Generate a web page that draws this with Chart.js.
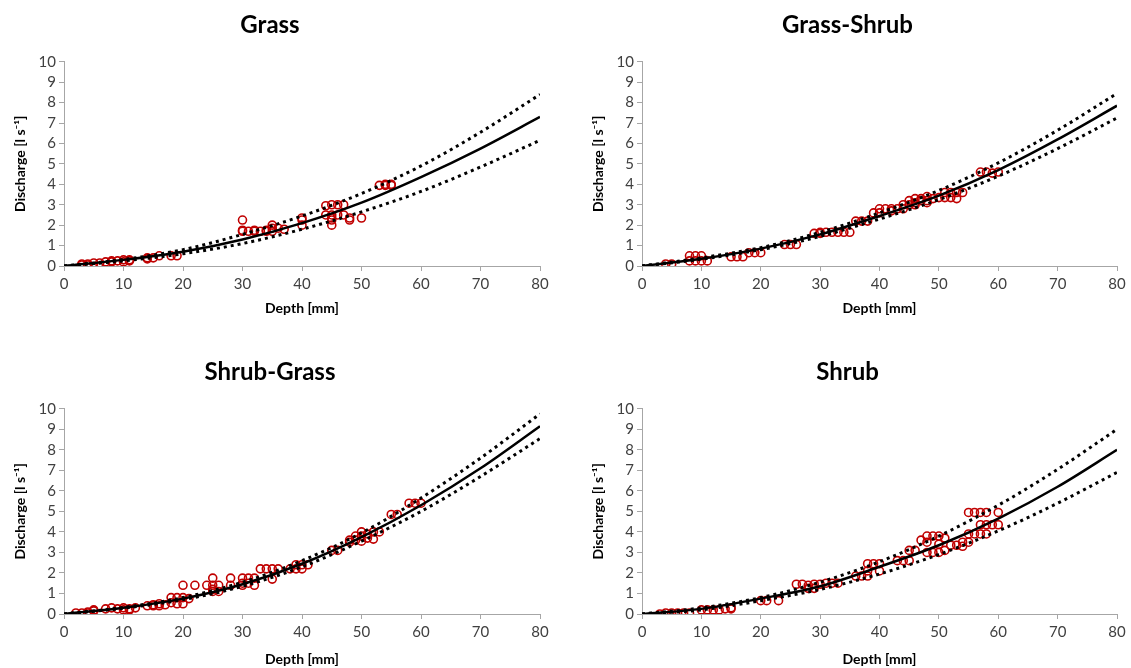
<!DOCTYPE html>
<html>
<head>
<meta charset="utf-8">
<script src="https://cdn.jsdelivr.net/npm/chart.js@4/dist/chart.umd.min.js"></script>
<style>
  html, body { margin: 0; padding: 0; background: #fff; }
  .cell { position: absolute; }
</style>
</head>
<body>
<div class="cell" style="left:0;top:0;width:565px;height:334px"><canvas id="c1"></canvas></div>
<div class="cell" style="left:565px;top:0;width:566px;height:334px"><canvas id="c2"></canvas></div>
<div class="cell" style="left:0;top:334px;width:565px;height:334px"><canvas id="c3"></canvas></div>
<div class="cell" style="left:565px;top:334px;width:566px;height:334px"><canvas id="c4"></canvas></div>
<script>
// curve x positions (mm)
const curveDepth = [0, 10, 20, 30, 40, 50, 60, 70, 80]

// Grass
const grassMean  = [0, 0.3, 0.7, 1.3, 2.1, 3.1, 4.35, 5.75, 7.3]
const grassUpper = [0, 0.32, 0.8, 1.55, 2.45, 3.55, 4.9, 6.55, 8.4]
const grassLower = [0, 0.25, 0.6, 1.1, 1.8, 2.65, 3.65, 4.85, 6.15]
const grassObs = [
  [3,0.05],[3,0.1],[4,0.05],[4,0.1],[5,0.15],[6,0.15],[7,0.2],[8,0.2],[8,0.25],[9,0.25],
  [10,0.2],[10,0.3],[11,0.25],[11,0.3],[14,0.35],[14,0.4],[15,0.4],[16,0.5],[18,0.5],[19,0.5],
  [30,2.25],[30,1.75],[30,1.7],[31,1.7],[32,1.7],[32,1.75],[33,1.7],[34,1.75],[34,1.7],
  [35,2.0],[35,1.85],[35,1.7],[36,1.85],[37,1.8],[40,2.35],[40,2.25],[40,2.0],
  [44,2.95],[44,2.5],[45,3.0],[45,2.5],[45,2.35],[45,2.25],[45,2.0],[46,3.0],[46,2.5],
  [47,3.0],[47,2.5],[48,2.35],[48,2.25],[50,2.35],[53,3.95],[54,4.0],[54,3.95],[55,3.95],[55,4.0]
]

// Grass-Shrub
const grassShrubMean  = [0, 0.35, 0.85, 1.55, 2.45, 3.45, 4.7, 6.2, 7.85]
const grassShrubUpper = [0, 0.4, 0.9, 1.65, 2.6, 3.7, 5.05, 6.65, 8.45]
const grassShrubLower = [0, 0.33, 0.8, 1.45, 2.3, 3.25, 4.4, 5.75, 7.25]
const grassShrubObs = [
  [4,0.1],[5,0.1],[8,0.5],[8,0.25],[9,0.5],[9,0.25],[10,0.5],[10,0.25],[11,0.25],
  [15,0.45],[16,0.45],[17,0.45],[18,0.65],[19,0.65],[20,0.65],[24,1.05],[25,1.05],[26,1.05],
  [29,1.6],[30,1.65],[30,1.6],[31,1.65],[32,1.65],[33,1.65],[34,1.65],[35,1.65],
  [36,2.2],[37,2.2],[38,2.2],[39,2.6],[40,2.8],[40,2.6],[41,2.8],[42,2.8],[42,2.7],[43,2.8],
  [44,3.0],[44,2.8],[45,3.2],[45,3.0],[46,3.3],[46,3.1],[46,3.0],[47,3.2],[47,3.3],
  [48,3.4],[48,3.2],[48,3.1],[49,3.3],[50,3.35],[51,3.6],[51,3.35],[52,3.6],[52,3.35],
  [53,3.6],[53,3.3],[54,3.6],[57,4.6],[58,4.6],[59,4.55],[60,4.6]
]

// Shrub-Grass
const shrubGrassMean  = [0, 0.3, 0.75, 1.45, 2.45, 3.75, 5.3, 7.1, 9.15]
const shrubGrassUpper = [0, 0.32, 0.8, 1.55, 2.6, 3.95, 5.65, 7.6, 9.75]
const shrubGrassLower = [0, 0.28, 0.7, 1.35, 2.3, 3.55, 5.0, 6.7, 8.55]
const shrubGrassObs = [
  [2,0.05],[3,0.05],[4,0.1],[4,0.05],[5,0.15],[5,0.2],[7,0.25],[8,0.3],[9,0.25],[10,0.3],
  [10,0.2],[11,0.25],[11,0.2],[12,0.3],[14,0.4],[15,0.4],[15,0.45],[16,0.5],[16,0.4],[17,0.45],
  [18,0.8],[18,0.55],[19,0.8],[19,0.5],[20,1.4],[20,0.8],[20,0.5],[21,0.75],[22,1.4],[24,1.4],
  [25,1.75],[25,1.4],[25,1.2],[25,1.1],[26,1.4],[26,1.1],[28,1.75],[28,1.4],[30,1.75],[30,1.4],
  [30,1.5],[31,1.75],[31,1.5],[32,1.75],[32,1.4],[33,2.2],[34,2.2],[35,2.2],[35,1.7],[36,2.2],
  [38,2.2],[39,2.4],[39,2.2],[40,2.4],[40,2.2],[41,2.4],[45,3.1],[46,3.1],[48,3.6],[48,3.5],
  [49,3.8],[49,3.6],[50,4.0],[50,3.8],[50,3.55],[51,3.9],[51,3.7],[52,4.0],[52,3.65],[53,4.0],
  [55,4.85],[56,4.85],[58,5.4],[59,5.4],[60,5.4]
]

// Shrub
const shrubMean  = [0, 0.25, 0.75, 1.35, 2.3, 3.35, 4.65, 6.2, 8.0]
const shrubUpper = [0, 0.3, 0.8, 1.55, 2.55, 3.8, 5.3, 7.05, 9.0]
const shrubLower = [0, 0.2, 0.65, 1.2, 1.95, 2.9, 4.05, 5.4, 6.9]
const shrubObs = [
  [3,0.0],[4,0.05],[5,0.05],[6,0.05],[7,0.05],[8,0.05],[10,0.2],[11,0.2],[12,0.2],[13,0.2],
  [14,0.25],[15,0.3],[15,0.25],[20,0.65],[21,0.65],[23,0.65],[26,1.45],[27,1.45],[28,1.4],
  [28,1.25],[29,1.25],[29,1.45],[30,1.45],[31,1.5],[32,1.5],[33,1.5],[36,1.85],[37,1.85],
  [38,2.45],[38,2.1],[38,1.85],[39,2.45],[40,2.45],[40,2.1],[43,2.6],[44,2.6],[45,3.1],[45,2.6],
  [46,3.1],[47,3.6],[48,3.8],[48,3.5],[48,3.0],[49,3.8],[49,3.0],[50,3.8],[50,3.4],[50,3.0],
  [51,3.7],[51,3.1],[52,3.35],[53,3.35],[54,3.5],[54,3.3],[55,4.95],[55,3.9],[55,3.5],
  [56,4.95],[56,3.9],[57,4.95],[57,4.35],[57,3.9],[58,4.95],[58,4.35],[58,3.9],[59,4.35],
  [60,4.95],[60,4.35]
]

const FONT = "Lato, 'Open Sans', sans-serif"
const pts = arr => arr.map(p => ({ x: p[0], y: p[1] }))
const curve = arr => arr.map((v, i) => ({ x: curveDepth[i], y: v }))

function makeChart(id, title, mean, upper, lower, obs, lay) {
  const dotted = {
    type: "line",
    borderColor: "#000",
    borderWidth: 3,
    borderDash: [3, 4],
    pointRadius: 0,
    cubicInterpolationMode: "monotone",
    fill: false
  }
  new Chart(document.getElementById(id), {
    data: {
      datasets: [
        { ...dotted, data: curve(upper) },
        { ...dotted, data: curve(lower) },
        {
          type: "line", data: curve(mean), borderColor: "#000", borderWidth: 2.5,
          pointRadius: 0, cubicInterpolationMode: "monotone", fill: false
        },
        {
          type: "scatter", data: pts(obs), pointRadius: 4, pointBorderWidth: 1.6,
          pointBorderColor: "#c00000", pointBackgroundColor: "rgba(0,0,0,0)"
        }
      ]
    },
    options: {
      responsive: true,
      maintainAspectRatio: false,
      animation: false,
      layout: { padding: { left: lay.left, right: lay.right, top: 0, bottom: 0 } },
      plugins: {
        legend: { display: false },
        tooltip: { enabled: false },
        title: {
          display: true,
          text: title,
          color: "#000",
          font: { family: FONT, size: 24, weight: "bold" },
          padding: { top: lay.titleTop, bottom: lay.titleBottom }
        }
      },
      scales: {
        x: {
          type: "linear", min: 0, max: 80,
          afterFit: s => { s.height = lay.xHeight },
          ticks: { stepSize: 10, autoSkip: false, maxRotation: 0, color: "#404040", font: { family: FONT, size: 15 }, padding: 4 },
          grid: { drawOnChartArea: false, color: "#a6a6a6", tickLength: 5 },
          border: { color: "#a6a6a6" },
          title: {
            display: true, text: "Depth [mm]", color: "#000",
            font: { family: FONT, size: 14, weight: "bold" },
            padding: { top: 0, bottom: lay.xTitleBottom }
          }
        },
        y: {
          type: "linear", min: 0, max: 10,
          afterFit: s => { s.width = 64 },
          ticks: { stepSize: 1, autoSkip: false, color: "#404040", font: { family: FONT, size: 15 }, padding: 3 },
          grid: { drawOnChartArea: false, color: "#a6a6a6", tickLength: 5 },
          border: { color: "#a6a6a6" },
          title: {
            display: true, text: "Discharge [l s⁻¹]", color: "#000",
            font: { family: FONT, size: 14, weight: "bold" },
            padding: { top: 12, bottom: 0 }
          }
        }
      }
    }
  })
}

const topLeft = { left: 0, right: 25, titleTop: 11, titleBottom: 22, xHeight: 68, xTitleBottom: 17 }
const topRight = { left: 13, right: 14, titleTop: 11, titleBottom: 22, xHeight: 68, xTitleBottom: 17 }
const botLeft = { left: 0, right: 25, titleTop: 24, titleBottom: 22, xHeight: 54, xTitleBottom: 0 }
const botRight = { left: 13, right: 14, titleTop: 24, titleBottom: 22, xHeight: 54, xTitleBottom: 0 }

makeChart("c1", "Grass", grassMean, grassUpper, grassLower, grassObs, topLeft)
makeChart("c2", "Grass-Shrub", grassShrubMean, grassShrubUpper, grassShrubLower, grassShrubObs, topRight)
makeChart("c3", "Shrub-Grass", shrubGrassMean, shrubGrassUpper, shrubGrassLower, shrubGrassObs, botLeft)
makeChart("c4", "Shrub", shrubMean, shrubUpper, shrubLower, shrubObs, botRight)
</script>
</body>
</html>
